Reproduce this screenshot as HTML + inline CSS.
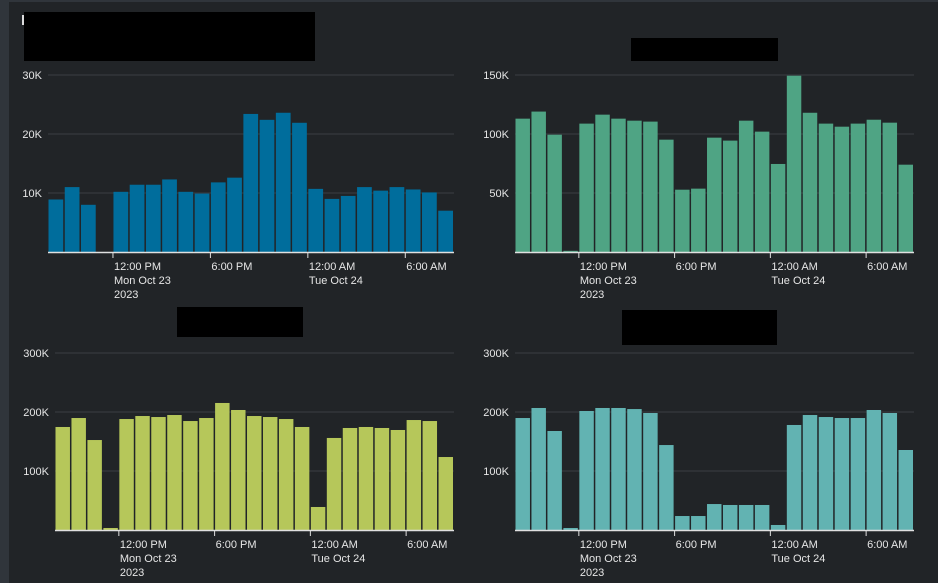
<!DOCTYPE html>
<html><head><meta charset="utf-8"><style>
html,body{margin:0;padding:0;background:#212427;width:938px;height:583px;overflow:hidden;font-family:"Liberation Sans",sans-serif}
#root{position:relative;width:938px;height:583px}
.blk{position:absolute;background:#000}
</style></head><body>
<div id="root">
<div style="position:absolute;left:0;top:0;width:9px;height:583px;background:#30353b"></div>
<div style="position:absolute;left:0;top:0;width:938px;height:2px;background:#30353b"></div>
<div style="position:absolute;left:22px;top:15px;width:2px;height:10px;background:#ddd"></div>
<div class="blk" style="left:24px;top:12px;width:291px;height:49px"></div>
<div class="blk" style="left:631px;top:38px;width:147px;height:23px"></div>
<div class="blk" style="left:177px;top:307px;width:126px;height:30px"></div>
<div class="blk" style="left:622px;top:310px;width:155px;height:35px"></div>
<svg id="svg" width="938" height="583" style="position:absolute;left:0;top:0"></svg>
</div>
<script>
const xTickLabels = [["12:00 PM","Mon Oct 23","2023"],["6:00 PM"],["12:00 AM","Tue Oct 24"],["6:00 AM"]];
const xTickSlots = [4,10,16,22];
const chart1Values = [8.9,11.0,8.0,0,10.2,11.4,11.4,12.3,10.2,9.9,11.8,12.6,23.4,22.4,23.6,21.9,10.7,9.0,9.5,11.0,10.4,11.0,10.6,10.1,7.0];
const chart2Values = [113,119,99.4,1,108.8,116.4,113,111.3,110.5,95.2,52.8,53.7,96.9,94.4,111.3,102,74.6,149.4,118,108.8,106.2,108.8,112.1,109.6,74];
const chart3Values = [174.6,189.8,152.5,3.4,188.1,193.2,191.5,194.9,184.7,189.8,215.3,203.4,193.2,191.5,188.1,174.6,39,156,172.9,174.6,172.9,169.5,186.4,184.7,123.7];
const chart4Values = [189.8,206.8,167.8,3.4,201.7,206.8,206.8,205,198.3,144,23.7,23.7,44,42.4,42.4,42.4,8.5,178,194.9,191.5,189.8,189.8,203.4,198.3,135.6];
const yTicks1 = [10,20,30], yTicks2 = [50,100,150], yTicks3 = [100,200,300], yTicks4 = [100,200,300];

const NS="http://www.w3.org/2000/svg";
const svg=document.getElementById('svg');
function mk(tag,attrs,parent){const e=document.createElementNS(NS,tag);for(const k in attrs)e.setAttribute(k,attrs[k]);(parent||svg).appendChild(e);return e;}
function chart(name,values,ticks,max,color,x0,x1,y0,yTop){
  const g=mk('g',{});
  
  
  const y=v=>y0-(v/max)*(y0-yTop);
  const slot=(x1-x0)/values.length;
  const x=i=>x0+i*slot;
  ticks.forEach(t=>{
    const gl=mk('line',{x1:x0,x2:x1,y1:y(t),y2:y(t),stroke:'#3a3e43','stroke-width':1},g);
    
    
    const tx=mk('text',{x:x0-6,y:y(t)+4,fill:'#e6e6e6','font-size':'11','text-anchor':'end'},g);
    tx.textContent=t+'K';
    
    
  });
  values.forEach((v,i)=>{
    const r=mk('rect',{x:x(i)+0.5,y:y(v),width:slot-1.5,height:y0-y(v),fill:color},g);
    
    
  });
  const ax=mk('line',{x1:x0,x2:x1,y1:y0+0.5,y2:y0+0.5,stroke:'#e0e0e0','stroke-width':1.5},g);
  
  
  xTickSlots.forEach((s,k)=>{
    const tx0=x(s);
    const tk=mk('line',{x1:tx0,x2:tx0,y1:y0,y2:y0+6,stroke:'#e0e0e0','stroke-width':1},g);
    
    
    xTickLabels[k].forEach((ln,j)=>{
      const t=mk('text',{x:tx0+1,y:y0+18+j*14,fill:'#e6e6e6','font-size':'11'},g);
      t.textContent=ln;
      
      
    });
  });
}
chart('chart-1',chart1Values,yTicks1,30,'#006d9c',48,454,252,75);
chart('chart-2',chart2Values,yTicks2,150,'#4fa484',515,914,252,75);
chart('chart-3',chart3Values,yTicks3,300,'#b6c75a',55,454,530,353);
chart('chart-4',chart4Values,yTicks4,300,'#62b3b2',515,914,530,353);
</script>
</body></html>
